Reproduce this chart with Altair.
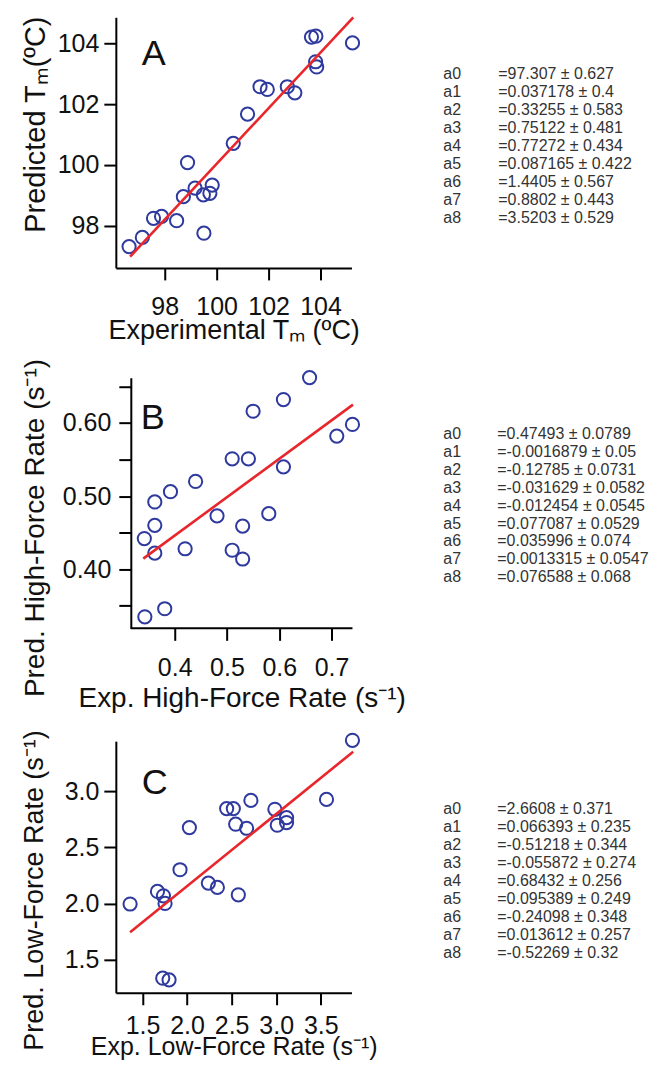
import altair as alt
import pandas as pd

FONT = "Liberation Sans"
BLUE = "#2f3a9e"
RED = "#e8262b"

# ---------------- Panel A : melting temperature ----------------
a_exp = [96.63, 97.14, 97.57, 97.88, 98.46, 98.72, 98.88, 99.17, 99.49, 99.51, 99.74, 99.83,
         100.64, 101.19, 101.67, 101.95, 102.72, 103.01, 103.65, 103.82, 103.81, 103.85, 105.23]
a_pred = [97.32, 97.62, 98.25, 98.31, 98.17, 98.96, 100.08, 99.24, 99.02, 97.76, 99.07, 99.34,
          100.71, 101.67, 102.57, 102.48, 102.57, 102.37, 104.20, 104.23, 103.39, 103.22, 104.01]
a_fit_x = [96.67, 105.26]
a_fit_y = [96.99, 104.85]

# ---------------- Panel B : high-force rate ----------------
b_exp = [0.343, 0.381, 0.342, 0.362, 0.362, 0.362, 0.392, 0.420, 0.440, 0.481, 0.510,
         0.510, 0.530, 0.530, 0.541, 0.550, 0.580, 0.608, 0.608, 0.658, 0.710, 0.740]
b_pred = [0.335, 0.346, 0.442, 0.422, 0.460, 0.492, 0.506, 0.428, 0.520, 0.473, 0.426,
          0.551, 0.414, 0.459, 0.551, 0.616, 0.476, 0.540, 0.632, 0.662, 0.582, 0.598]
b_fit_x = [0.340, 0.741]
b_fit_y = [0.4145, 0.625]

# ---------------- Panel C : low-force rate ----------------
c_exp = [1.361, 1.668, 1.735, 1.753, 1.727, 1.798, 1.921, 2.026, 2.239, 2.340, 2.444,
         2.519, 2.545, 2.575, 2.668, 2.716, 2.985, 3.012, 3.116, 3.116, 3.564, 3.855]
c_pred = [1.995, 2.107, 2.068, 2.000, 1.335, 1.320, 2.300, 2.675, 2.181, 2.143, 2.844,
          2.844, 2.705, 2.077, 2.669, 2.917, 2.838, 2.696, 2.764, 2.720, 2.926, 3.452]
c_fit_x = [1.361, 3.863]
c_fit_y = [1.744, 3.350]

# ---------------- fit coefficient tables ----------------
coef_names = ["a0", "a1", "a2", "a3", "a4", "a5", "a6", "a7", "a8"]
a_coef = ["=97.307 ± 0.627", "=0.037178 ± 0.4", "=0.33255 ± 0.583", "=0.75122 ± 0.481",
          "=0.77272 ± 0.434", "=0.087165 ± 0.422", "=1.4405 ± 0.567", "=0.8802 ± 0.443",
          "=3.5203 ± 0.529"]
b_coef = ["=0.47493 ± 0.0789", "=-0.0016879 ± 0.05", "=-0.12785 ± 0.0731", "=-0.031629 ± 0.0582",
          "=-0.012454 ± 0.0545", "=0.077087 ± 0.0529", "=0.035996 ± 0.074", "=0.0013315 ± 0.0547",
          "=0.076588 ± 0.068"]
c_coef = ["=2.6608 ± 0.371", "=0.066393 ± 0.235", "=-0.51218 ± 0.344", "=-0.055872 ± 0.274",
          "=0.68432 ± 0.256", "=0.095389 ± 0.249", "=-0.24098 ± 0.348", "=0.013612 ± 0.257",
          "=-0.52269 ± 0.32"]


def panel(letter, xs, ys, fx, fy, coefs, xdom, ydom, w, h, xtitle, ytitle,
          xvals, yvals, xfmt, yfmt, ylabelexpr, ytitle_x, ytitle_y, ytitle_size,
          xtitle_y, xtitle_size, xlabpad, ylabpad, letter_x, letter_y,
          tab_x0, tab_x1, tab_top, yoffset=0, xaxis_from=None, xtitle_x=None):
    pts = pd.DataFrame({"x": xs, "y": ys})
    fit = pd.DataFrame({"x": fx, "y": fy})
    xkw = dict(values=xvals, format=xfmt, title=xtitle, titleY=xtitle_y,
               titleBaseline="top", titleFontSize=xtitle_size, labelPadding=xlabpad)
    if xaxis_from is not None:
        xkw["domain"] = False
    if xtitle_x is not None:
        xkw["titleX"] = xtitle_x
    xaxis = alt.Axis(**xkw)
    ykw = dict(values=yvals, format=yfmt, title=ytitle, titleX=ytitle_x, titleY=ytitle_y,
               titleBaseline="top", titleAlign="center", titleFontSize=ytitle_size,
               labelPadding=ylabpad)
    if ylabelexpr:
        ykw["labelExpr"] = ylabelexpr
    if yoffset:
        ykw["offset"] = yoffset
    yaxis = alt.Axis(**ykw)
    xsc = alt.Scale(domain=xdom, nice=False, zero=False)
    ysc = alt.Scale(domain=ydom, nice=False, zero=False)

    points = alt.Chart(pts).mark_point(shape="circle", filled=False, size=175,
                                       strokeWidth=2, color=BLUE, opacity=1).encode(
        x=alt.X("x:Q", scale=xsc, axis=xaxis),
        y=alt.Y("y:Q", scale=ysc, axis=yaxis),
    )
    line = alt.Chart(fit).mark_line(color=RED, strokeWidth=2.6).encode(
        x=alt.X("x:Q", scale=xsc), y=alt.Y("y:Q", scale=ysc))
    lab = alt.Chart(pd.DataFrame({"t": [letter]})).mark_text(
        font=FONT, fontSize=36, align="left", baseline="alphabetic", color="#111").encode(
        x=alt.value(letter_x), y=alt.value(letter_y), text="t:N")
    layers = [points, line, lab]
    if xaxis_from is not None:
        base = pd.DataFrame({"x": [xaxis_from], "x2": [xdom[1]], "y": [ydom[0]]})
        layers.append(alt.Chart(base).mark_rule(color="#000", strokeWidth=2).encode(
            x=alt.X("x:Q", scale=xsc), x2="x2:Q", y=alt.Y("y:Q", scale=ysc)))
    inner = alt.layer(*layers)

    tab = pd.DataFrame({"row": list(range(len(coef_names))), "name": coef_names, "val": coefs})
    tsc = alt.Scale(domain=[0, 8], range=[tab_top, tab_top + 8 * 18])
    tnames = alt.Chart(tab).mark_text(font=FONT, fontSize=16, align="left", baseline="middle",
                                      color="#333").encode(
        x=alt.value(tab_x0), y=alt.Y("row:Q", scale=tsc, axis=None), text="name:N")
    tvals = alt.Chart(tab).mark_text(font=FONT, fontSize=16, align="left", baseline="middle",
                                     color="#333").encode(
        x=alt.value(tab_x1), y=alt.Y("row:Q", scale=tsc, axis=None), text="val:N")
    table = alt.layer(tnames, tvals)
    return alt.layer(inner, table).resolve_scale(y="independent").properties(width=w, height=h)


A = panel("A", a_exp, a_pred, a_fit_x, a_fit_y, a_coef,
          [96.12, 105.19], [96.62, 104.85], 236, 251,
          "Experimental Tₘ (ºC)", "Predicted Tₘ(ºC)",
          [98, 100, 102, 104], [98, 100, 102, 104], "d", "d", None,
          -94, 107, 29, 50, 27, 15, 5, 26, 48, 328, 383, 57)

# panel B: the plot box starts at the same x as A and C, the axes start 15 px inside it
B = panel("B", b_exp, b_pred, b_fit_x, b_fit_y, b_coef,
          [0.2875, 0.740], [0.3192, 0.6618], 237, 251,
          "Exp. High-Force Rate (s⁻¹)", "Pred. High-Force Rate (s⁻¹)",
          [0.4, 0.5, 0.6, 0.7], [0.35, 0.40, 0.45, 0.50, 0.55, 0.60, 0.65], ".1f", ".2f",
          "round(datum.value*100) % 10 == 0 ? format(datum.value, '.2f') : ''",
          -109, 150, 28, 56, 28, 15, 8, 25, 51, 328, 382, 56,
          yoffset=-15, xaxis_from=0.3161, xtitle_x=126)

C = panel("C", c_exp, c_pred, c_fit_x, c_fit_y, c_coef,
          [1.201, 3.844], [1.205, 3.444], 236, 252,
          "Exp. Low-Force Rate (s⁻¹)", "Pred. Low-Force Rate (s⁻¹)",
          [1.5, 2.0, 2.5, 3.0, 3.5], [1.5, 2.0, 2.5, 3.0], ".1f", ".1f", None,
          -94, 149, 27, 42, 25, 9, 5, 26, 53, 328, 382, 68)

lower = alt.vconcat(B, C, spacing=113, bounds="flush")
chart = alt.vconcat(A, lower, spacing=110, bounds="flush").properties(
    padding={"left": 12, "top": 2.5, "right": 0, "bottom": 0}
).configure_view(stroke=None).configure_axis(
    grid=False, domainColor="#000", domainWidth=2, tickColor="#000", tickWidth=2,
    tickSize=12, labelFont=FONT, labelFontSize=25, labelColor="#111",
    titleFont=FONT, titleFontWeight="normal", titleColor="#111"
)

chart.save("out.html", embed_options={"renderer": "svg", "actions": False})
